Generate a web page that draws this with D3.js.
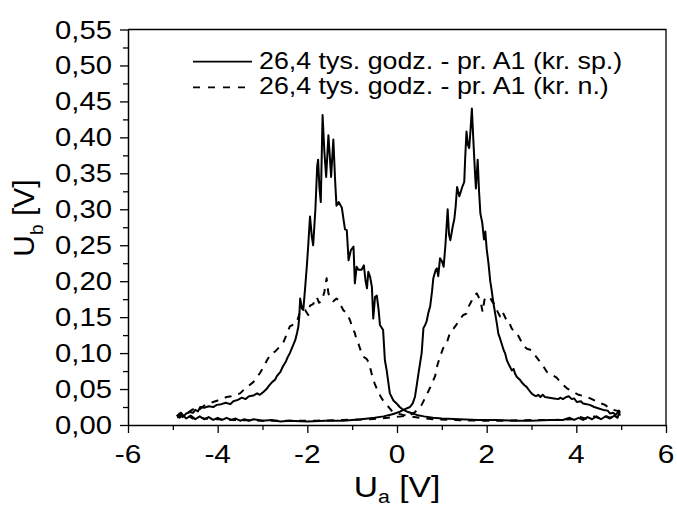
<!DOCTYPE html>
<html>
<head>
<meta charset="utf-8">
<script src="https://cdn.jsdelivr.net/npm/d3@7/dist/d3.min.js"></script>
<style>
  html, body { margin: 0; padding: 0; background: #fff; }
  svg { display: block; }
  text { font-family: "Liberation Sans", Arial, sans-serif; fill: #000; }
</style>
</head>
<body>
<svg id="chart" width="677" height="509"></svg>
<script>
// Axis ticks
const xMajorTicks = [-6, -4, -2, 0, 2, 4, 6];
const xMinorTicks = [-5, -3, -1, 1, 3, 5];
const yMajorTicks = [0, 0.05, 0.10, 0.15, 0.20, 0.25, 0.30, 0.35, 0.40, 0.45, 0.50, 0.55];
const yMinorTicks = [0.025, 0.075, 0.125, 0.175, 0.225, 0.275, 0.325, 0.375, 0.425, 0.475, 0.525];

const legendLabels = [
  "26,4 tys. godz. - pr. A1 (kr. sp.)",
  "26,4 tys. godz. - pr. A1 (kr. n.)"
];

// Solid curve, sweep with the peak at negative Ua
const solidSweepA = [
  [-4.91,0.012],[-4.85,0.016],[-4.78,0.011],[-4.70,0.016],[-4.62,0.018],[-4.55,0.017],[-4.50,0.021],
  [-4.44,0.019],[-4.39,0.025],[-4.30,0.024],[-4.20,0.026],[-4.10,0.025],[-4.02,0.028],[-3.92,0.029],
  [-3.82,0.031],[-3.72,0.029],[-3.65,0.033],[-3.55,0.035],[-3.46,0.038],[-3.38,0.036],[-3.30,0.040],
  [-3.20,0.041],[-3.12,0.044],[-3.06,0.042],[-2.98,0.046],[-2.91,0.050],[-2.85,0.055],[-2.78,0.060],
  [-2.72,0.063],[-2.68,0.068],[-2.60,0.074],[-2.54,0.082],[-2.48,0.088],[-2.44,0.094],[-2.39,0.100],
  [-2.33,0.109],[-2.27,0.118],[-2.23,0.128],[-2.20,0.137],[-2.18,0.150],[-2.16,0.176],[-2.12,0.162],
  [-2.09,0.160],[-2.05,0.190],[-2.01,0.222],[-1.98,0.250],[-1.94,0.290],[-1.90,0.262],[-1.87,0.250],
  [-1.82,0.300],[-1.78,0.360],[-1.76,0.369],[-1.73,0.330],[-1.70,0.310],[-1.66,0.431],[-1.62,0.380],
  [-1.58,0.345],[-1.53,0.403],[-1.50,0.375],[-1.47,0.345],[-1.42,0.397],[-1.38,0.340],[-1.35,0.305],
  [-1.30,0.310],[-1.23,0.302],[-1.16,0.272],[-1.12,0.271],[-1.08,0.229],[-1.03,0.243],[-0.97,0.248],
  [-0.94,0.197],[-0.90,0.220],[-0.86,0.216],[-0.79,0.216],[-0.74,0.222],[-0.70,0.200],[-0.67,0.190],
  [-0.64,0.213],[-0.60,0.206],[-0.56,0.192],[-0.53,0.148],[-0.49,0.178],[-0.45,0.180],[-0.41,0.160],
  [-0.38,0.139],[-0.31,0.132],[-0.27,0.090],[-0.23,0.076],[-0.16,0.044],[-0.08,0.034],[-0.01,0.030],
  [0.06,0.025],[0.14,0.021],[0.25,0.018],[0.35,0.016],[0.44,0.014],[0.60,0.012],[0.80,0.010],
  [1.00,0.009],[1.40,0.008],[1.80,0.007],[2.20,0.007],[2.60,0.006],[3.00,0.006],[3.40,0.007],
  [3.70,0.007],[3.85,0.010],[3.95,0.007],[4.05,0.010],[4.15,0.007],[4.25,0.011],[4.35,0.008],
  [4.45,0.012],[4.55,0.008],[4.65,0.012],[4.75,0.009],[4.85,0.013],[4.92,0.010],[4.97,0.020]
];

// Solid curve, sweep with the peak at positive Ua
const solidSweepB = [
  [-4.91,0.014],[-4.85,0.010],[-4.78,0.014],[-4.70,0.009],[-4.60,0.013],[-4.50,0.008],[-4.40,0.012],
  [-4.30,0.008],[-4.20,0.011],[-4.10,0.007],[-4.00,0.010],[-3.90,0.007],[-3.80,0.010],[-3.70,0.007],
  [-3.60,0.009],[-3.50,0.006],[-3.40,0.008],[-3.30,0.006],[-3.20,0.008],[-3.00,0.006],[-2.80,0.007],
  [-2.60,0.005],[-2.40,0.006],[-2.00,0.005],[-1.60,0.006],[-1.20,0.006],[-0.80,0.008],[-0.50,0.010],
  [-0.30,0.012],[-0.10,0.015],[0.05,0.018],[0.14,0.021],[0.29,0.025],[0.35,0.030],[0.40,0.039],
  [0.44,0.055],[0.48,0.072],[0.52,0.088],[0.55,0.100],[0.59,0.135],[0.62,0.138],[0.66,0.144],
  [0.70,0.156],[0.74,0.165],[0.78,0.185],[0.81,0.204],[0.86,0.215],[0.89,0.218],[0.92,0.207],
  [0.96,0.232],[1.00,0.228],[1.04,0.220],[1.08,0.250],[1.13,0.300],[1.16,0.265],[1.19,0.257],
  [1.24,0.275],[1.28,0.287],[1.31,0.305],[1.34,0.331],[1.39,0.318],[1.45,0.330],[1.50,0.338],
  [1.52,0.370],[1.55,0.408],[1.58,0.390],[1.61,0.385],[1.64,0.410],[1.67,0.440],[1.70,0.400],
  [1.74,0.350],[1.76,0.329],[1.80,0.369],[1.83,0.325],[1.86,0.294],[1.90,0.282],[1.94,0.258],
  [1.97,0.269],[2.00,0.245],[2.04,0.225],[2.08,0.200],[2.11,0.188],[2.15,0.170],[2.19,0.155],
  [2.23,0.140],[2.26,0.127],[2.30,0.120],[2.34,0.112],[2.38,0.104],[2.41,0.100],[2.45,0.090],
  [2.48,0.086],[2.52,0.081],[2.56,0.076],[2.60,0.078],[2.63,0.072],[2.67,0.067],[2.74,0.063],
  [2.80,0.058],[2.85,0.055],[2.89,0.053],[2.95,0.048],[3.00,0.044],[3.04,0.042],[3.10,0.040],
  [3.15,0.042],[3.20,0.039],[3.25,0.042],[3.30,0.039],[3.40,0.038],[3.50,0.037],[3.60,0.036],
  [3.64,0.038],[3.70,0.036],[3.78,0.039],[3.83,0.040],[3.90,0.036],[3.95,0.037],[4.01,0.032],
  [4.10,0.033],[4.15,0.030],[4.23,0.029],[4.30,0.028],[4.40,0.025],[4.50,0.023],[4.60,0.021],
  [4.70,0.020],[4.75,0.016],[4.82,0.017],[4.88,0.014],[4.95,0.020],[4.97,0.013]
];

// Dashed curve, sweep with the peak at negative Ua
const dashedSweepA = [
  [-4.88,0.013],[-4.82,0.017],[-4.75,0.012],[-4.68,0.016],[-4.60,0.020],[-4.52,0.023],[-4.47,0.025],
  [-4.40,0.022],[-4.30,0.027],[-4.20,0.030],[-4.10,0.032],[-4.00,0.034],[-3.90,0.036],[-3.80,0.039],
  [-3.70,0.040],[-3.60,0.042],[-3.50,0.044],[-3.40,0.050],[-3.30,0.055],[-3.20,0.060],[-3.13,0.066],
  [-3.06,0.072],[-2.98,0.080],[-2.90,0.090],[-2.80,0.100],[-2.72,0.102],[-2.63,0.108],[-2.54,0.114],
  [-2.46,0.126],[-2.39,0.137],[-2.30,0.140],[-2.24,0.142],[-2.16,0.158],[-2.05,0.160],[-1.98,0.153],
  [-1.94,0.166],[-1.87,0.168],[-1.82,0.176],[-1.79,0.178],[-1.74,0.170],[-1.68,0.172],[-1.62,0.185],
  [-1.57,0.204],[-1.53,0.183],[-1.48,0.175],[-1.42,0.172],[-1.35,0.176],[-1.31,0.174],[-1.25,0.166],
  [-1.20,0.160],[-1.12,0.155],[-1.05,0.146],[-0.98,0.133],[-0.94,0.128],[-0.90,0.118],[-0.86,0.113],
  [-0.79,0.100],[-0.75,0.095],[-0.68,0.092],[-0.64,0.088],[-0.60,0.080],[-0.56,0.070],[-0.50,0.058],
  [-0.42,0.046],[-0.35,0.038],[-0.28,0.031],[-0.20,0.026],[-0.12,0.020],[0.00,0.016],[0.14,0.014],
  [0.30,0.012],[0.50,0.010],[0.80,0.008],[1.20,0.007],[1.80,0.006],[2.40,0.006],[3.00,0.007],
  [3.50,0.007],[3.90,0.008],[4.10,0.011],[4.25,0.008],[4.40,0.012],[4.52,0.009],[4.64,0.013],
  [4.76,0.010],[4.86,0.014],[4.94,0.012]
];

// Dashed curve, sweep with the peak at positive Ua
const dashedSweepB = [
  [-4.90,0.010],[-4.82,0.014],[-4.74,0.010],[-4.66,0.013],[-4.56,0.009],[-4.46,0.012],[-4.30,0.009],
  [-4.00,0.008],[-3.60,0.007],[-3.00,0.006],[-2.40,0.006],[-1.80,0.006],[-1.20,0.007],[-0.60,0.008],
  [-0.20,0.010],[0.10,0.012],[0.30,0.014],[0.40,0.018],[0.47,0.022],[0.55,0.028],[0.63,0.038],
  [0.70,0.047],[0.76,0.055],[0.85,0.068],[0.90,0.083],[0.96,0.095],[1.03,0.107],[1.10,0.112],
  [1.18,0.128],[1.26,0.134],[1.33,0.140],[1.40,0.147],[1.48,0.153],[1.55,0.155],[1.60,0.165],
  [1.66,0.172],[1.72,0.180],[1.78,0.183],[1.82,0.178],[1.87,0.170],[1.91,0.157],[1.95,0.174],
  [2.00,0.178],[2.07,0.178],[2.12,0.172],[2.19,0.167],[2.24,0.158],[2.30,0.151],[2.34,0.158],
  [2.38,0.154],[2.44,0.146],[2.48,0.146],[2.52,0.140],[2.56,0.134],[2.62,0.130],[2.67,0.128],
  [2.74,0.120],[2.82,0.110],[2.90,0.106],[3.00,0.104],[3.08,0.097],[3.19,0.088],[3.27,0.081],
  [3.34,0.074],[3.45,0.070],[3.56,0.066],[3.64,0.060],[3.72,0.055],[3.79,0.051],[3.90,0.047],
  [4.05,0.042],[4.18,0.040],[4.31,0.037],[4.45,0.033],[4.55,0.030],[4.64,0.028],[4.72,0.024],
  [4.83,0.021],[4.90,0.020],[4.94,0.019]
];

const svg = d3.select("#chart");
const plot = { left: 128, right: 666, top: 29.5, bottom: 425 };

const x = d3.scaleLinear().domain([-6, 6]).range([plot.left, plot.right]);
const y = d3.scaleLinear().domain([0, 0.55]).range([plot.bottom, plot.top]);

const fmtY = v => d3.format(".2f")(v).replace(".", ",");
const textStretch = 1.17;

// Plot frame (top and right edges)
svg.append("path")
  .attr("d", `M${plot.left},${plot.top}H${plot.right}V${plot.bottom}`)
  .attr("fill", "none").attr("stroke", "#000").attr("stroke-width", 1.3);

// Bottom axis: major and minor ticks
const xAxisG = svg.append("g").attr("transform", `translate(0,${plot.bottom})`);
xAxisG.call(d3.axisBottom(x).tickValues(xMajorTicks).tickSize(8).tickSizeOuter(0).tickFormat(""));
xAxisG.append("g").call(d3.axisBottom(x).tickValues(xMinorTicks).tickSize(5).tickSizeOuter(0).tickFormat(""))
  .select(".domain").remove();

// Left axis: major and minor ticks
const yAxisG = svg.append("g").attr("transform", `translate(${plot.left},0)`);
yAxisG.call(d3.axisLeft(y).tickValues(yMajorTicks).tickSize(8).tickSizeOuter(0).tickFormat(""));
yAxisG.append("g").call(d3.axisLeft(y).tickValues(yMinorTicks).tickSize(5).tickSizeOuter(0).tickFormat(""))
  .select(".domain").remove();

svg.selectAll(".domain").attr("stroke-width", 1.5);
svg.selectAll(".tick line").attr("stroke-width", 1.3);

// Tick labels
svg.append("g").selectAll("text").data(xMajorTicks).join("text")
  .attr("transform", d => `translate(${x(d)},463) scale(${textStretch},1)`)
  .attr("text-anchor", "middle")
  .attr("font-size", 25.5)
  .text(d => d3.format("d")(d).replace("−", "-"));

svg.append("g").selectAll("text").data(yMajorTicks).join("text")
  .attr("transform", d => `translate(112,${y(d) + 9}) scale(${textStretch},1)`)
  .attr("text-anchor", "end")
  .attr("font-size", 25)
  .text(fmtY);

// Axis titles
const xTitle = svg.append("text")
  .attr("transform", `translate(397,497) scale(1.12,1)`)
  .attr("text-anchor", "middle")
  .attr("font-size", 30);
xTitle.append("tspan").text("U");
xTitle.append("tspan").attr("font-size", 19).attr("dy", 6).text("a");
xTitle.append("tspan").attr("dy", -6).text(" [V]");

const yTitle = svg.append("text")
  .attr("transform", `translate(34,218) rotate(-90)`)
  .attr("text-anchor", "middle")
  .attr("font-size", 30);
yTitle.append("tspan").text("U");
yTitle.append("tspan").attr("font-size", 19).attr("dy", 9).text("b");
yTitle.append("tspan").attr("dy", -9).text(" [V]");

// Curves
const line = d3.line().x(d => x(d[0])).y(d => y(d[1]));
const curves = [
  { data: solidSweepA, dash: null },
  { data: solidSweepB, dash: null },
  { data: dashedSweepA, dash: "7,7" },
  { data: dashedSweepB, dash: "7,7" }
];
svg.append("g").selectAll("path").data(curves).join("path")
  .attr("d", d => line(d.data))
  .attr("fill", "none")
  .attr("stroke", "#000")
  .attr("stroke-width", 2)
  .attr("stroke-linejoin", "round")
  .attr("stroke-dasharray", d => d.dash);

// Legend
const legend = svg.append("g");
const legendRows = [
  { label: legendLabels[0], dash: null, y: 61.7 },
  { label: legendLabels[1], dash: "7,8", y: 87.3 }
];
legendRows.forEach(r => {
  legend.append("line")
    .attr("x1", 193).attr("x2", 252).attr("y1", r.y).attr("y2", r.y)
    .attr("stroke", "#000").attr("stroke-width", 1.8)
    .attr("stroke-dasharray", r.dash);
  legend.append("text")
    .attr("transform", `translate(259,${r.y + 7}) scale(1.15,1)`)
    .attr("font-size", 23.3)
    .text(r.label);
});
</script>
</body>
</html>
